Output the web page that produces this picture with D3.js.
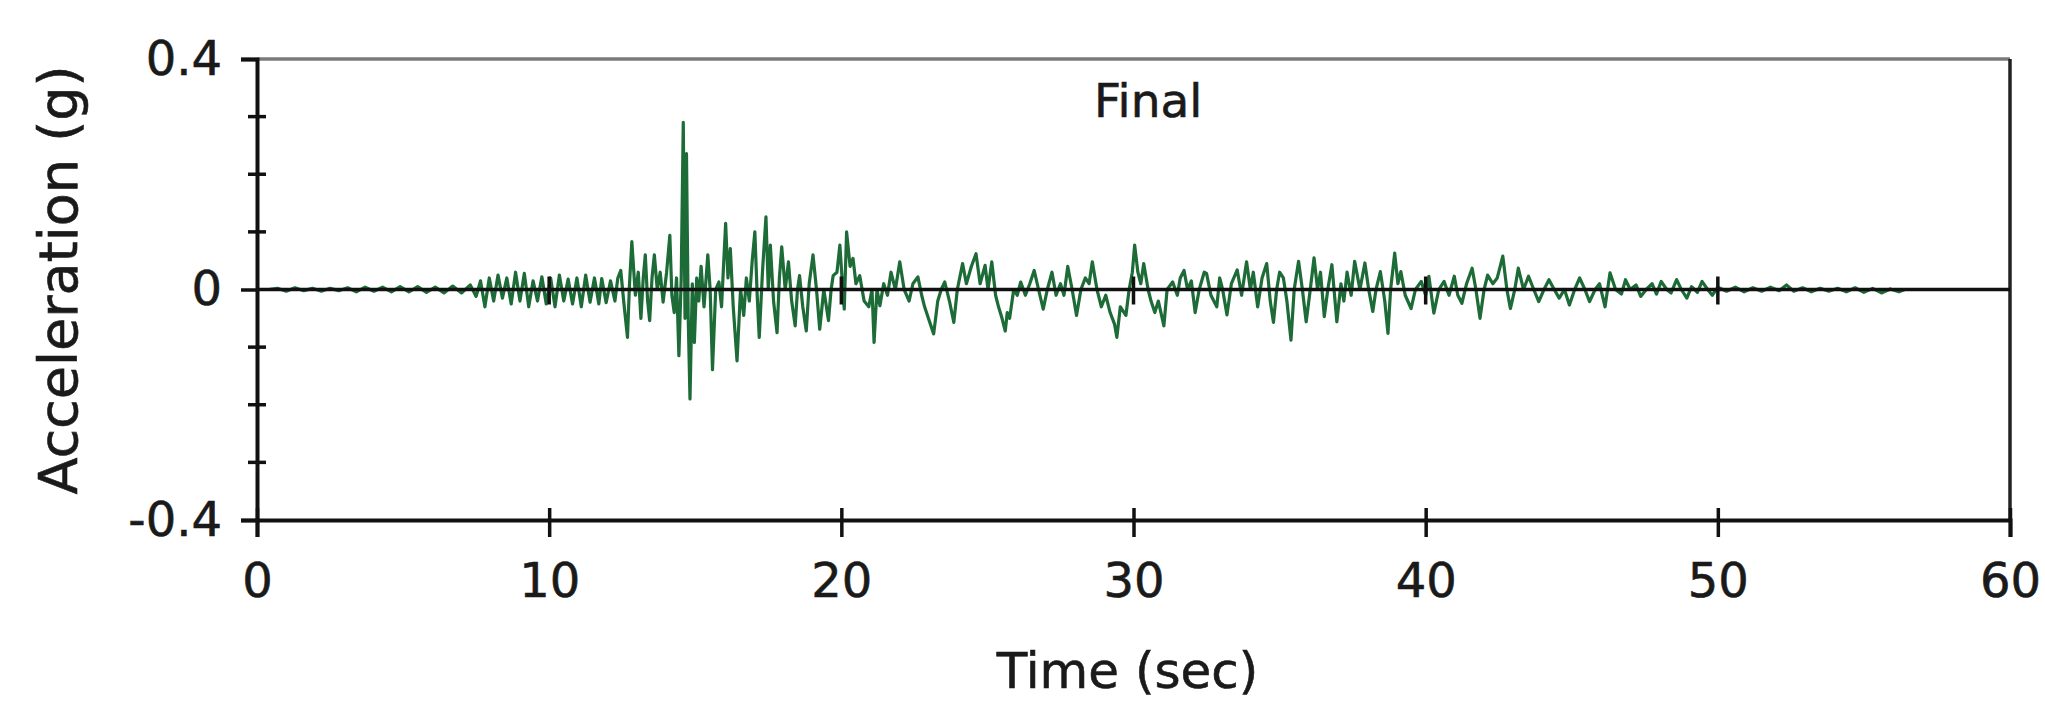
<!DOCTYPE html>
<html>
<head>
<meta charset="utf-8">
<script src="https://cdn.jsdelivr.net/npm/d3@7"></script>
<style>
  html, body { margin: 0; padding: 0; background: #fff; }
  svg { display: block; }
  text { font-family: "DejaVu Sans", Verdana, sans-serif; fill: #1a1a1a; stroke: #1a1a1a; stroke-width: 0.6px; }
</style>
</head>
<body>
<svg id="chart" width="2045" height="714"></svg>
<script>
// ---- data ----
const chartTitle = "Final";
const xTitle = "Time (sec)";
const yTitle = "Acceleration (g)";
const xTickValues = [0, 10, 20, 30, 40, 50, 60];
const yTickValues = [-0.4, 0, 0.4];
const yTickLabels = ["-0.4", "0", "0.4"];
const yMinorTickValues = [-0.3, -0.2, -0.1, 0.1, 0.2, 0.3];

const timeSec = [
  0.4, 0.7, 1.0, 1.3, 1.6, 1.9, 2.2, 2.5, 2.8, 3.1, 3.4, 3.7, 4.0, 4.3, 4.6, 4.9, 5.2, 5.5, 5.8, 6.1,
  6.4, 6.7, 7.0, 7.3, 7.5, 7.65, 7.8, 7.95, 8.1, 8.25, 8.4, 8.55, 8.7, 8.85, 9.0, 9.15, 9.3, 9.45, 9.6, 9.75,
  9.9, 10.05, 10.2, 10.35, 10.5, 10.65, 10.8, 10.95, 11.1, 11.25, 11.4, 11.55, 11.7, 11.8, 11.95, 12.1, 12.25, 12.35, 12.45, 12.55,
  12.68, 12.75, 12.83, 12.95, 13.05, 13.14, 13.22, 13.29, 13.37, 13.44, 13.52, 13.6, 13.7, 13.8, 13.9, 14.02, 14.13, 14.2, 14.28, 14.36,
  14.44, 14.52, 14.59, 14.65, 14.7, 14.76, 14.82, 14.9, 14.97, 15.05, 15.12, 15.2, 15.3, 15.43, 15.51, 15.59, 15.7, 15.81, 15.9, 16.04,
  16.12, 16.2, 16.3, 16.43, 16.55, 16.66, 16.75, 16.85, 16.95, 17.04, 17.12, 17.19, 17.3, 17.42, 17.5, 17.57, 17.68, 17.8, 17.88, 17.96,
  18.08, 18.19, 18.3, 18.42, 18.5, 18.57, 18.68, 18.8, 18.9, 19.03, 19.15, 19.26, 19.4, 19.56, 19.65, 19.72, 19.85, 19.95, 20.05, 20.1,
  20.18, 20.3, 20.4, 20.5, 20.63, 20.78, 20.94, 21.05, 21.12, 21.22, 21.32, 21.45, 21.58, 21.7, 21.85, 22.0, 22.15, 22.32, 22.45, 22.62,
  22.75, 22.85, 22.98, 23.16, 23.3, 23.42, 23.54, 23.7, 23.85, 23.97, 24.15, 24.28, 24.45, 24.61, 24.75, 24.92, 25.02, 25.15, 25.28, 25.38,
  25.5, 25.61, 25.68, 25.76, 25.9, 26.02, 26.14, 26.3, 26.45, 26.6, 26.75, 26.91, 27.05, 27.21, 27.35, 27.5, 27.62, 27.75, 27.9, 28.05,
  28.2, 28.35, 28.48, 28.59, 28.75, 28.9, 29.05, 29.2, 29.35, 29.43, 29.55, 29.74, 29.85, 29.96, 30.04, 30.15, 30.25, 30.35, 30.5, 30.6,
  30.73, 30.85, 31.04, 31.15, 31.34, 31.5, 31.6, 31.73, 31.85, 31.98, 32.11, 32.25, 32.42, 32.5, 32.65, 32.85, 32.95, 33.05, 33.2, 33.35,
  33.55, 33.7, 33.87, 34.0, 34.1, 34.25, 34.4, 34.56, 34.68, 34.79, 34.9, 35.0, 35.13, 35.25, 35.39, 35.5, 35.65, 35.78, 35.91, 36.05,
  36.18, 36.3, 36.4, 36.53, 36.65, 36.79, 36.96, 37.1, 37.2, 37.31, 37.45, 37.57, 37.75, 37.92, 38.05, 38.19, 38.3, 38.45, 38.6, 38.71,
  38.8, 38.94, 39.05, 39.15, 39.3, 39.5, 39.65, 39.85, 40.0, 40.11, 40.28, 40.45, 40.63, 40.8, 40.98, 41.1, 41.24, 41.4, 41.59, 41.72,
  41.86, 42.0, 42.12, 42.3, 42.45, 42.64, 42.78, 42.9, 43.05, 43.17, 43.35, 43.52, 43.7, 43.87, 44.05, 44.22, 44.4, 44.57, 44.75, 44.92,
  45.1, 45.27, 45.45, 45.61, 45.8, 45.95, 46.14, 46.31, 46.5, 46.7, 46.84, 47.0, 47.2, 47.36, 47.55, 47.75, 47.9, 48.06, 48.25, 48.4,
  48.59, 48.75, 48.94, 49.1, 49.3, 49.46, 49.65, 49.81, 50.0, 50.3, 50.6, 50.9, 51.2, 51.5, 51.8, 52.1, 52.35, 52.6, 52.9, 53.2,
  53.5, 53.8, 54.1, 54.4, 54.7, 55.0, 55.3, 55.6, 55.9, 56.2, 56.4
];
const accelG = [
  0, 0.002, -0.003, 0.003, -0.002, 0.002, -0.003, 0.002, -0.002, 0.003, -0.004, 0.004, -0.003, 0.004, -0.004, 0.005, -0.004, 0.005, -0.005, 0.004,
  -0.006, 0.006, -0.006, 0.008, -0.012, 0.015, -0.03, 0.02, -0.02, 0.025, -0.015, 0.02, -0.025, 0.03, -0.02, 0.028, -0.03, 0.015, -0.02, 0.022,
  -0.025, 0.02, -0.03, 0.025, -0.02, 0.018, -0.025, 0.02, -0.03, 0.025, -0.022, 0.02, -0.025, 0.019, -0.023, 0.015, -0.02, 0.02, 0.033, -0.02,
  -0.083, 0.01, 0.083, -0.01, 0.03, -0.05, 0.02, 0.06, -0.02, -0.054, 0.02, 0.06, 0.0, 0.03, -0.022, 0.03, 0.094, -0.01, -0.04, 0.02,
  -0.115, 0.02, 0.29, -0.05, 0.236, -0.05, -0.19, 0.01, -0.092, 0.02, -0.02, 0.04, -0.03, 0.06, 0.0, -0.139, 0.0, 0.013, -0.03, 0.115,
  0.02, 0.071, -0.03, -0.124, 0.0, -0.045, 0.02, -0.02, 0.05, 0.1, -0.01, -0.083, 0.03, 0.126, 0.0, 0.077, -0.02, -0.075, 0.02, 0.074,
  0.0, 0.048, -0.02, -0.063, 0.0, 0.024, -0.03, -0.072, 0.01, 0.06, 0.0, -0.069, 0.0, -0.054, 0.0, 0.024, 0.03, 0.077, 0.0, -0.034,
  0.1, 0.04, 0.054, 0.01, 0.024, -0.02, -0.03, 0.0, -0.092, 0.0, -0.028, 0.01, -0.01, 0.03, 0.0, 0.048, 0.0, -0.02, 0.01, 0.022,
  -0.01, -0.03, -0.05, -0.077, -0.02, 0.0, 0.013, -0.02, -0.057, 0.0, 0.045, 0.01, 0.04, 0.062, 0.01, 0.042, 0.0, 0.048, -0.01, -0.03,
  -0.05, -0.072, -0.04, -0.05, 0.0, -0.01, 0.013, -0.01, 0.01, 0.033, 0.0, -0.034, 0.0, 0.03, -0.01, 0.01, -0.01, 0.04, 0.0, -0.045,
  0.0, 0.02, 0.01, 0.048, 0.0, -0.03, -0.01, -0.04, -0.06, -0.083, -0.03, -0.045, 0.0, 0.03, 0.077, 0.03, 0.01, 0.045, 0.0, -0.02,
  -0.04, -0.02, -0.063, 0.0, 0.013, -0.01, 0.02, 0.033, 0.0, 0.015, -0.04, 0.0, 0.03, 0.028, -0.01, -0.03, 0.02, 0.0, -0.044, 0.01,
  0.034, -0.01, 0.048, 0.0, 0.03, -0.03, 0.02, 0.045, -0.02, -0.057, 0.0, 0.03, 0.02, -0.02, -0.088, 0.0, 0.049, 0.0, -0.056, 0.0,
  0.055, 0.0, 0.03, -0.047, 0.0, 0.043, -0.056, 0.01, -0.02, 0.03, -0.01, 0.049, 0.0, 0.046, 0.0, -0.038, 0.0, 0.031, -0.02, -0.076,
  0.0, 0.063, 0.01, 0.031, -0.01, -0.033, 0.0, 0.014, -0.01, 0.023, -0.041, 0.0, 0.014, -0.01, 0.023, -0.01, -0.024, 0.01, 0.037, 0.0,
  -0.05, 0.0, 0.025, 0.01, 0.02, 0.058, 0.0, -0.033, 0.0, 0.037, 0.0, 0.023, 0.0, -0.021, 0.0, 0.017, 0.0, -0.015, 0.0, -0.027,
  0.0, 0.02, 0.0, -0.021, 0.0, 0.01, -0.03, 0.029, 0.0, -0.008, 0.017, 0.0, 0.008, -0.012, 0.0, 0.01, -0.008, 0.014, 0.0, -0.006,
  0.017, 0.0, -0.015, 0.005, -0.005, 0.014, 0.0, -0.01, 0.004, -0.003, 0.004, -0.004, 0.003, -0.003, 0.004, -0.002, 0.008, -0.003, 0.003, -0.004,
  0.002, -0.003, 0.002, -0.004, 0.003, -0.005, 0.002, -0.006, 0.001, -0.004, 0
];

// ---- layout ----
const plotLeft = 257, plotRight = 2010, plotTop = 59, plotBottom = 520;
const svg = d3.select("#chart");

const x = d3.scaleLinear().domain([0, 60]).range([plotLeft, plotRight]);
const y = d3.scaleLinear().domain([-0.4, 0.4]).range([plotBottom, plotTop]);

const axisColor = "#111";
const axisW = 4;
const fontFam = '"DejaVu Sans", Verdana, sans-serif';

// plot-area border (top gray, right dark)
svg.append("line").attr("x1", plotLeft).attr("x2", plotRight).attr("y1", plotTop).attr("y2", plotTop)
  .attr("stroke", "#7a7a7a").attr("stroke-width", 3.5);
svg.append("line").attr("x1", plotRight).attr("x2", plotRight).attr("y1", plotTop).attr("y2", plotBottom)
  .attr("stroke", "#222").attr("stroke-width", 3.5);

// signal
const pts = timeSec.map((t, i) => [t, accelG[i]]);
svg.append("path")
  .datum(pts)
  .attr("fill", "none")
  .attr("stroke", "#1d6b37")
  .attr("stroke-width", 3.2)
  .attr("stroke-linejoin", "round")
  .attr("d", d3.line().x(d => x(d[0])).y(d => y(d[1])));

// zero line with crossing ticks
svg.append("line").attr("x1", x(0)).attr("x2", x(60)).attr("y1", y(0)).attr("y2", y(0))
  .attr("stroke", axisColor).attr("stroke-width", 3.5);
svg.append("g").selectAll("line").data(xTickValues.filter(v => v > 0 && v < 60)).join("line")
  .attr("x1", d => x(d)).attr("x2", d => x(d))
  .attr("y1", y(0) - 13).attr("y2", y(0) + 15)
  .attr("stroke", axisColor).attr("stroke-width", 3.5);

// left axis (major ticks outside, labels)
const yAxis = svg.append("g").attr("transform", `translate(${plotLeft},0)`)
  .call(d3.axisLeft(y).tickValues(yTickValues).tickSize(16).tickPadding(19)
    .tickFormat((d, i) => yTickLabels[i]));
yAxis.select(".domain").attr("stroke", axisColor).attr("stroke-width", axisW);
yAxis.selectAll(".tick line").attr("stroke", axisColor).attr("stroke-width", 3.5);
yAxis.selectAll(".tick text").attr("font-size", 48).attr("fill", "#1a1a1a").attr("font-family", fontFam);

// left minor ticks (crossing)
svg.append("g").selectAll("line").data(yMinorTickValues).join("line")
  .attr("x1", plotLeft - 9).attr("x2", plotLeft + 9)
  .attr("y1", d => y(d)).attr("y2", d => y(d))
  .attr("stroke", axisColor).attr("stroke-width", 3.5);

// bottom axis (crossing ticks, labels)
const xAxis = svg.append("g").attr("transform", `translate(0,${plotBottom})`)
  .call(d3.axisBottom(x).tickValues(xTickValues).tickSize(17).tickPadding(26)
    .tickFormat(d3.format("d")));
xAxis.select(".domain").attr("stroke", axisColor).attr("stroke-width", axisW);
xAxis.selectAll(".tick line").attr("stroke", axisColor).attr("stroke-width", 3.5).attr("y1", -12);
xAxis.selectAll(".tick text").attr("font-size", 48).attr("fill", "#1a1a1a").attr("font-family", fontFam);

// titles
svg.append("text").attr("x", (plotLeft + plotRight) / 2 - 6).attr("y", 688)
  .attr("text-anchor", "middle").attr("font-size", 50).text(xTitle);
svg.append("text")
  .attr("transform", `translate(77,280) rotate(-90)`)
  .attr("text-anchor", "middle").attr("font-size", 54).text(yTitle);
svg.append("text").attr("x", 1094).attr("y", 117)
  .attr("font-size", 47).text(chartTitle);
</script>
</body>
</html>
